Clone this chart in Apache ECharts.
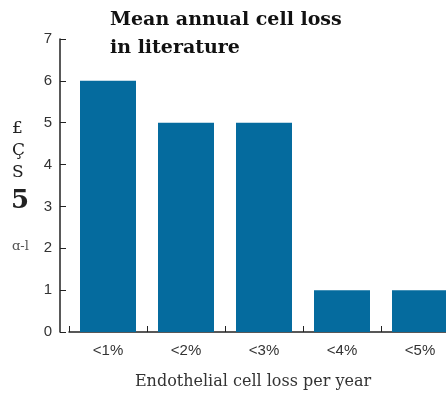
<!DOCTYPE html>
<html>
<head>
<meta charset="utf-8">
<script src="https://cdn.jsdelivr.net/npm/echarts@6/dist/echarts.min.js"></script>
<style>
  html, body { margin: 0; padding: 0; background: #fff; overflow: hidden; }
  #chart { width: 459px; height: 395px; }
</style>
</head>
<body>
<div id="chart"></div>
<script>
// data
var categories = ['<1%', '<2%', '<3%', '<4%', '<5%']
var counts = [6, 5, 5, 1, 1]
var yTicks = [0, 1, 2, 3, 4, 5, 6, 7]

// the last bar runs off the right edge in the original, so the chart is a bit wider than the window
var myChart = echarts.init(document.getElementById('chart'))
var option = {
  backgroundColor: '#fff',
  animation: false,
  title: {
    text: 'Mean annual cell loss\nin literature',
    left: 105,
    top: 1,
    textStyle: {
      fontFamily: 'DejaVu Serif',
      fontWeight: 'bold',
      fontSize: 19,
      lineHeight: 28,
      color: '#111'
    }
  },
  grid: {
    left: 69,
    right: 0,
    top: 39,
    bottom: 61
  },
  xAxis: {
    type: 'category',
    data: categories,
    name: 'Endothelial cell loss per year',
    nameLocation: 'middle',
    nameGap: 42,
    nameTextStyle: {
      fontFamily: 'DejaVu Serif',
      fontSize: 16,
      color: '#333',
      padding: [0, 22, 0, 0]
    },
    axisLine: { lineStyle: { color: '#222', width: 1.5 } },
    axisTick: { show: true, inside: true, length: 6, lineStyle: { color: '#222' } },
    axisLabel: {
      margin: 11,
      fontFamily: 'Liberation Sans',
      fontSize: 15,
      color: '#333'
    }
  },
  yAxis: {
    type: 'value',
    min: 0,
    max: 7,
    interval: 1,
    offset: 9,
    axisLine: { show: true, lineStyle: { color: '#222', width: 1.5 } },
    axisTick: { show: true, inside: true, length: 6, lineStyle: { color: '#222' } },
    splitLine: { show: false },
    axisLabel: {
      margin: 8,
      fontFamily: 'Liberation Sans',
      fontSize: 15,
      color: '#333',
      formatter: function (v) { return yTicks.indexOf(v) >= 0 ? String(v) : '' }
    }
  },
  graphic: [
    {
      type: 'text',
      left: 12,
      top: 118,
      style: {
        text: '£\nÇ\nS',
        fontFamily: 'DejaVu Serif',
        fontSize: 17,
        lineHeight: 22,
        fill: '#222'
      }
    },
    {
      type: 'text',
      left: 11,
      top: 188,
      style: {
        text: '5',
        fontFamily: 'DejaVu Serif',
        fontSize: 26,
        fontWeight: 'bold',
        fill: '#222'
      }
    },
    {
      type: 'text',
      left: 12,
      top: 240,
      style: {
        text: 'ɑ-l',
        fontFamily: 'DejaVu Serif',
        fontSize: 13,
        fill: '#555'
      }
    }
  ],
  series: [{
    type: 'bar',
    data: counts,
    barWidth: 56,
    itemStyle: { color: '#056b9e' }
  }]
}
myChart.setOption(option, true)
</script>
</body>
</html>
